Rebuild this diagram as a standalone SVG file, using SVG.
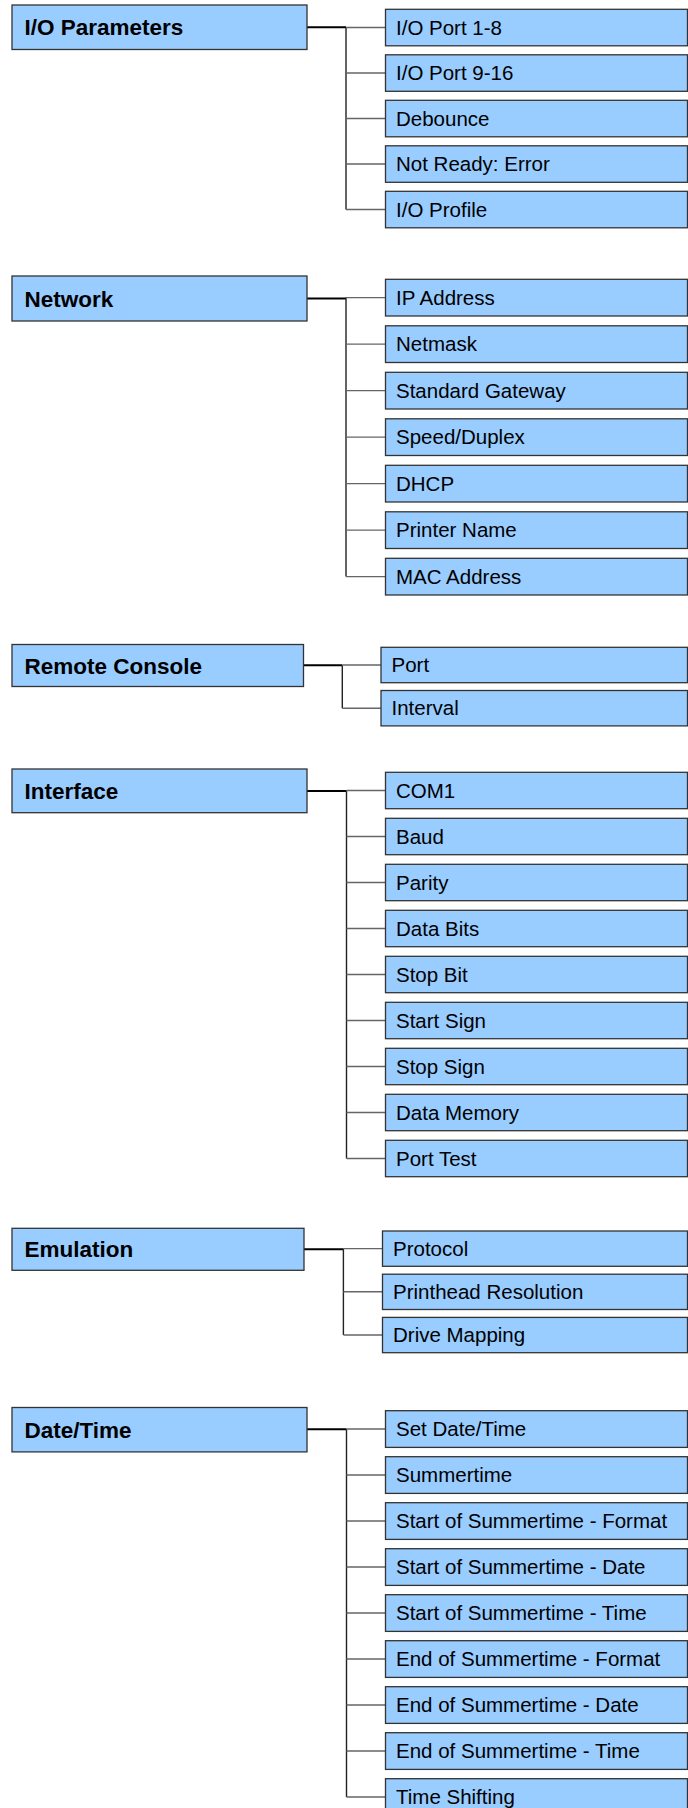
<svg xmlns="http://www.w3.org/2000/svg" width="688" height="1808" viewBox="0 0 688 1808">
<style>
.p rect{fill:#99ccff;stroke:#333;stroke-width:1.3}
.c rect{fill:#99ccff;stroke:#333;stroke-width:1.3}
.p text{font-family:"Liberation Sans",Arial,sans-serif;font-weight:bold;font-size:22.5px;fill:#000}
.c text{font-family:"Liberation Sans",Arial,sans-serif;font-size:20.5px;fill:#000}
.main{stroke:#000;stroke-width:2;fill:none}
.bus{stroke:#222;stroke-width:1.4;fill:none}
.br{stroke:#666;stroke-width:1.4;fill:none}
</style>
<rect width="688" height="1808" fill="#fff"/>
<g id="connectors">
<path class="main" d="M307 27.3H346"/>
<path class="bus" d="M346 27.3V209.5"/>
<path class="br" d="M346 27.5H385.5M346 73H385.5M346 118.5H385.5M346 164H385.5M346 209.5H385.5"/>
<path class="main" d="M307 298.5H346"/>
<path class="bus" d="M346 297.6V576.6"/>
<path class="br" d="M346 297.6H385.5M346 344.1H385.5M346 390.6H385.5M346 437.1H385.5M346 483.6H385.5M346 530.1H385.5M346 576.6H385.5"/>
<path class="main" d="M303.5 665.2H342.3"/>
<path class="bus" d="M342.3 665.2V708.2"/>
<path class="br" d="M342.3 665H381M342.3 708.2H381"/>
<path class="main" d="M307 791H346.5"/>
<path class="bus" d="M346.5 790.5V1158.5"/>
<path class="br" d="M346.5 790.5H385.5M346.5 836.5H385.5M346.5 882.5H385.5M346.5 928.5H385.5M346.5 974.5H385.5M346.5 1020.5H385.5M346.5 1066.5H385.5M346.5 1112.5H385.5M346.5 1158.5H385.5"/>
<path class="main" d="M304 1249.3H343.4"/>
<path class="bus" d="M343.4 1248.6V1335"/>
<path class="br" d="M343.4 1248.6H382.5M343.4 1291.8H382.5M343.4 1335H382.5"/>
<path class="main" d="M307 1429.3H346.5"/>
<path class="bus" d="M346.5 1429V1797"/>
<path class="br" d="M346.5 1429H385.5M346.5 1475H385.5M346.5 1521H385.5M346.5 1567H385.5M346.5 1613H385.5M346.5 1659H385.5M346.5 1705H385.5M346.5 1751H385.5M346.5 1797H385.5"/>
</g>

<g id="io-parameters" class="p"><rect x="12" y="5" width="295" height="44.5"/><text x="24.5" y="35.3">I/O Parameters</text></g>
<g id="io-port-1-8" class="c"><rect x="385.5" y="9.3" width="302" height="36.5"/><text x="396" y="34.6">I/O Port 1-8</text></g>
<g id="io-port-9-16" class="c"><rect x="385.5" y="54.8" width="302" height="36.5"/><text x="396" y="80.1">I/O Port 9-16</text></g>
<g id="debounce" class="c"><rect x="385.5" y="100.3" width="302" height="36.5"/><text x="396" y="125.6">Debounce</text></g>
<g id="not-ready-error" class="c"><rect x="385.5" y="145.8" width="302" height="36.5"/><text x="396" y="171.1">Not Ready: Error</text></g>
<g id="io-profile" class="c"><rect x="385.5" y="191.3" width="302" height="36.5"/><text x="396" y="216.6">I/O Profile</text></g>

<g id="network" class="p"><rect x="12" y="276" width="295" height="45"/><text x="24.5" y="306.5">Network</text></g>
<g id="ip-address" class="c"><rect x="385.5" y="279.3" width="302" height="36.7"/><text x="396" y="304.7">IP Address</text></g>
<g id="netmask" class="c"><rect x="385.5" y="325.8" width="302" height="36.7"/><text x="396" y="351.2">Netmask</text></g>
<g id="standard-gateway" class="c"><rect x="385.5" y="372.3" width="302" height="36.7"/><text x="396" y="397.7">Standard Gateway</text></g>
<g id="speed-duplex" class="c"><rect x="385.5" y="418.8" width="302" height="36.7"/><text x="396" y="444.2">Speed/Duplex</text></g>
<g id="dhcp" class="c"><rect x="385.5" y="465.3" width="302" height="36.7"/><text x="396" y="490.7">DHCP</text></g>
<g id="printer-name" class="c"><rect x="385.5" y="511.8" width="302" height="36.7"/><text x="396" y="537.2">Printer Name</text></g>
<g id="mac-address" class="c"><rect x="385.5" y="558.3" width="302" height="36.7"/><text x="396" y="583.7">MAC Address</text></g>

<g id="remote-console" class="p"><rect x="12" y="644.5" width="291.5" height="42"/><text x="24.5" y="673.5">Remote Console</text></g>
<g id="port" class="c"><rect x="381" y="647.3" width="306.5" height="35.4"/><text x="391.5" y="672">Port</text></g>
<g id="interval" class="c"><rect x="381" y="690.5" width="306.5" height="35.4"/><text x="391.5" y="715.2">Interval</text></g>

<g id="interface" class="p"><rect x="12" y="769" width="295" height="43.7"/><text x="24.5" y="799">Interface</text></g>
<g id="com1" class="c"><rect x="385.5" y="772.3" width="302" height="36.4"/><text x="396" y="797.5">COM1</text></g>
<g id="baud" class="c"><rect x="385.5" y="818.3" width="302" height="36.4"/><text x="396" y="843.5">Baud</text></g>
<g id="parity" class="c"><rect x="385.5" y="864.3" width="302" height="36.4"/><text x="396" y="889.5">Parity</text></g>
<g id="data-bits" class="c"><rect x="385.5" y="910.3" width="302" height="36.4"/><text x="396" y="935.5">Data Bits</text></g>
<g id="stop-bit" class="c"><rect x="385.5" y="956.3" width="302" height="36.4"/><text x="396" y="981.5">Stop Bit</text></g>
<g id="start-sign" class="c"><rect x="385.5" y="1002.3" width="302" height="36.4"/><text x="396" y="1027.5">Start Sign</text></g>
<g id="stop-sign" class="c"><rect x="385.5" y="1048.3" width="302" height="36.4"/><text x="396" y="1073.5">Stop Sign</text></g>
<g id="data-memory" class="c"><rect x="385.5" y="1094.3" width="302" height="36.4"/><text x="396" y="1119.5">Data Memory</text></g>
<g id="port-test" class="c"><rect x="385.5" y="1140.3" width="302" height="36.4"/><text x="396" y="1165.5">Port Test</text></g>

<g id="emulation" class="p"><rect x="12" y="1228.3" width="292" height="42"/><text x="24.5" y="1257.3">Emulation</text></g>
<g id="protocol" class="c"><rect x="382.5" y="1231" width="305" height="35.3"/><text x="393" y="1255.6">Protocol</text></g>
<g id="printhead-resolution" class="c"><rect x="382.5" y="1274.2" width="305" height="35.3"/><text x="393" y="1298.8">Printhead Resolution</text></g>
<g id="drive-mapping" class="c"><rect x="382.5" y="1317.4" width="305" height="35.3"/><text x="393" y="1342">Drive Mapping</text></g>

<g id="date-time" class="p"><rect x="12" y="1407.5" width="295" height="44.4"/><text x="24.5" y="1437.6">Date/Time</text></g>
<g id="set-date-time" class="c"><rect x="385.5" y="1410.7" width="302" height="36.7"/><text x="396" y="1436.1">Set Date/Time</text></g>
<g id="summertime" class="c"><rect x="385.5" y="1456.7" width="302" height="36.7"/><text x="396" y="1482.1">Summertime</text></g>
<g id="start-format" class="c"><rect x="385.5" y="1502.7" width="302" height="36.7"/><text x="396" y="1528.1">Start of Summertime - Format</text></g>
<g id="start-date" class="c"><rect x="385.5" y="1548.7" width="302" height="36.7"/><text x="396" y="1574.1">Start of Summertime - Date</text></g>
<g id="start-time" class="c"><rect x="385.5" y="1594.7" width="302" height="36.7"/><text x="396" y="1620.1">Start of Summertime - Time</text></g>
<g id="end-format" class="c"><rect x="385.5" y="1640.7" width="302" height="36.7"/><text x="396" y="1666.1">End of Summertime - Format</text></g>
<g id="end-date" class="c"><rect x="385.5" y="1686.7" width="302" height="36.7"/><text x="396" y="1712.1">End of Summertime - Date</text></g>
<g id="end-time" class="c"><rect x="385.5" y="1732.7" width="302" height="36.7"/><text x="396" y="1758.1">End of Summertime - Time</text></g>
<g id="time-shifting" class="c"><rect x="385.5" y="1778.7" width="302" height="36.7"/><text x="396" y="1804.1">Time Shifting</text></g>
</svg>
